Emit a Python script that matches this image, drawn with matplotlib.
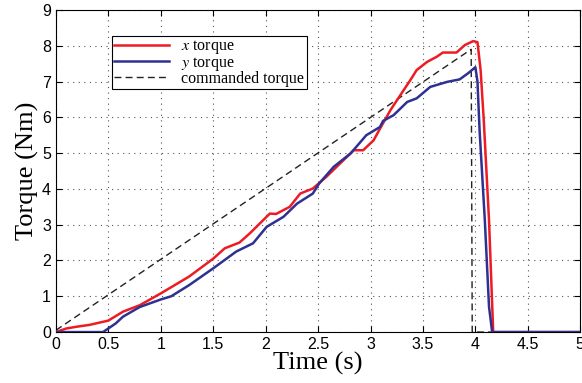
import numpy as np
import matplotlib
matplotlib.use("Agg")
from matplotlib import pyplot as plt

plt.rcParams["mathtext.fontset"] = "stix"

# x torque (red)
t_x = [0.0, 0.1, 0.2, 0.32, 0.5, 0.64, 0.8, 1.0, 1.27, 1.5, 1.61, 1.75, 1.85,
       2.04, 2.1, 2.23, 2.33, 2.45, 2.58, 2.71, 2.84, 2.93, 3.03, 3.09, 3.19,
       3.28, 3.38, 3.44, 3.54, 3.63, 3.69, 3.82, 3.9, 3.98, 4.02, 4.05, 4.08,
       4.13, 4.17, 5.0]
v_x = [0.0, 0.1, 0.15, 0.2, 0.32, 0.57, 0.75, 1.08, 1.55, 2.05, 2.34, 2.5, 2.76,
       3.31, 3.3, 3.5, 3.87, 4.01, 4.34, 4.71, 5.08, 5.08, 5.36, 5.68, 6.2,
       6.6, 7.04, 7.32, 7.55, 7.69, 7.81, 7.81, 8.02, 8.13, 8.1, 7.32, 5.92,
       3.13, 0.0, 0.0]

# y torque (blue)
t_y = [0.0, 0.45, 0.5, 0.57, 0.64, 0.8, 1.0, 1.1, 1.27, 1.5, 1.72, 1.88, 2.01,
       2.17, 2.3, 2.45, 2.51, 2.65, 2.81, 2.96, 3.09, 3.12, 3.22, 3.35, 3.44,
       3.57, 3.73, 3.85, 3.93, 4.0, 4.02, 4.04, 4.09, 4.13, 4.16, 5.0]
v_y = [0.0, 0.0, 0.1, 0.24, 0.43, 0.7, 0.91, 1.0, 1.31, 1.78, 2.25, 2.48, 2.94,
       3.22, 3.59, 3.87, 4.15, 4.62, 4.99, 5.5, 5.73, 5.9, 6.06, 6.43, 6.53,
       6.85, 6.99, 7.06, 7.23, 7.4, 7.0, 5.64, 3.13, 0.71, 0.0, 0.0]

# commanded torque
t_c = [0.0, 3.96, 3.97, 5.0]
v_c = [0.05, 7.9, 0.0, 0.0]

xticks = [0, 0.5, 1, 1.5, 2, 2.5, 3, 3.5, 4, 4.5, 5]
xtick_labels = ["0", "0.5", "1", "1.5", "2", "2.5", "3", "3.5", "4", "4.5", "5"]
yticks = list(range(10))

fig = plt.figure(figsize=(5.82, 3.83), dpi=100)
ax = fig.add_axes([0.096, 0.133, 0.901, 0.841])

ax.plot(t_c, v_c, color="#222222", ls=(0, (5, 3)), lw=1.0, zorder=2)
ax.plot(t_x, v_x, color="#ed1c24", lw=1.8, label=r"$x$ torque", zorder=3)
ax.plot(t_y, v_y, color="#2e3192", lw=1.8, label=r"$y$ torque", zorder=4)
# dummy handle so legend order matches the figure
ax.plot([], [], color="#222222", ls=(0, (5, 3)), lw=1.0, label="commanded torque")

ax.set_xlim(0, 5)
ax.set_ylim(0, 9)
ax.set_xticks(xticks)
ax.set_xticklabels(xtick_labels)
ax.set_yticks(yticks)
ax.tick_params(direction="in", top=True, right=True, labelsize=11.5, length=4)
for lab in ax.get_xticklabels() + ax.get_yticklabels():
    lab.set_family("Liberation Sans")
ax.grid(True, ls=(0, (1, 4)), color="#555555", lw=0.8)

ax.set_xlabel("Time (s)", family="Liberation Serif", fontsize=19, labelpad=0)
ax.set_ylabel("Torque (Nm)", family="Liberation Serif", fontsize=19, labelpad=2)

leg = ax.legend(loc="upper left", bbox_to_anchor=(0.107, 0.92),
                borderaxespad=0,
                prop={"family": "Liberation Serif", "size": 11.5},
                fancybox=False, framealpha=1, edgecolor="black",
                handlelength=3.4, borderpad=0.15, labelspacing=-0.1)
leg.get_frame().set_linewidth(0.8)

fig.savefig("out.png", dpi=100)
